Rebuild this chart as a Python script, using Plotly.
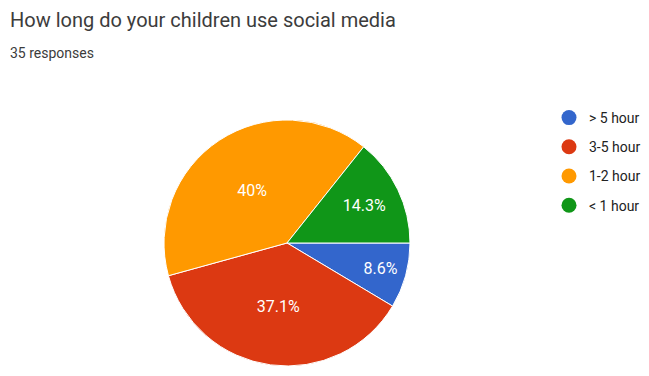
import plotly.graph_objects as go

labels = ["> 5 hour", "3-5 hour", "1-2 hour", "< 1 hour"]
counts = [3, 13, 14, 5]
colors = ["#3366cc", "#dc3912", "#ff9900", "#109618"]
title_text = "How long do your children use social media"
subtitle_text = "35 responses"

total = sum(counts)
pct_text = []
for c in counts:
    s = f"{100 * c / total:.1f}"
    if s.endswith(".0"):
        s = s[:-2]
    pct_text.append(s + "%")

W, H = 649, 376
cx, cy, r = 287, 243, 123

fig = go.Figure()
fig.add_trace(go.Pie(
    labels=labels, values=counts, sort=False, direction="clockwise", rotation=90,
    marker=dict(colors=colors, line=dict(color="white", width=1)),
    text=pct_text, textinfo="text",
    textposition="inside", insidetextorientation="horizontal",
    textfont=dict(family="Roboto, Arial", size=16, color="white"),
    domain=dict(x=[(cx - r) / W, (cx + r) / W],
                y=[(H - cy - r) / H, (H - cy + r) / H]),
    showlegend=False, hoverinfo="label+percent",
))
# legend entries with circular markers
for lab, col in zip(labels, colors):
    fig.add_trace(go.Scatter(
        x=[None], y=[None], mode="markers", name=lab, legendgroup=lab,
        marker=dict(symbol="circle", size=15, color=col),
    ))

fig.update_layout(
    width=W, height=H,
    margin=dict(l=0, r=0, t=0, b=0),
    paper_bgcolor="white", plot_bgcolor="white",
    xaxis=dict(visible=False), yaxis=dict(visible=False),
    legend=dict(x=549 / W, y=1 - 102 / H, xanchor="left", yanchor="top",
                font=dict(family="Roboto, Arial", size=14, color="#222222"),
                tracegroupgap=8, itemwidth=30, bgcolor="rgba(0,0,0,0)"),
    annotations=[
        dict(text=title_text, x=8 / W, y=1 - 6 / H, xref="paper", yref="paper",
             xanchor="left", yanchor="top", showarrow=False,
             font=dict(family="Roboto, Arial", size=20, color="#3c3c3c")),
        dict(text=subtitle_text, x=8 / W, y=1 - 43 / H, xref="paper", yref="paper",
             xanchor="left", yanchor="top", showarrow=False,
             font=dict(family="Roboto, Arial", size=14, color="#3c3c3c")),
    ],
)
fig.write_html("out.html")
